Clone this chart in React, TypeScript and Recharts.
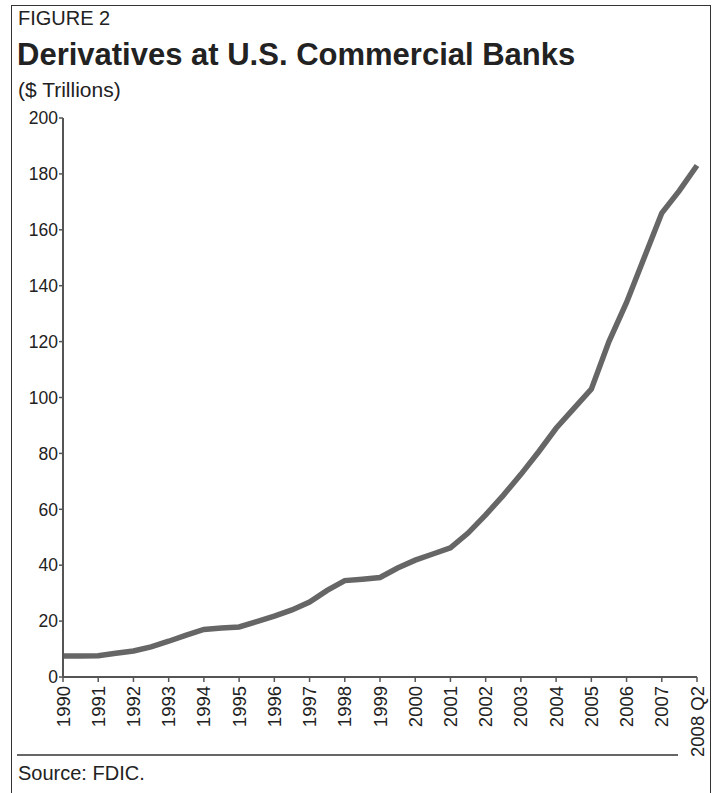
import React from "react";
import { LineChart, Line, XAxis, YAxis } from "recharts";

const xValues = [
  1990, 1990.5, 1991, 1991.5, 1992, 1992.5, 1993, 1993.5, 1994, 1994.5,
  1995, 1995.5, 1996, 1996.5, 1997, 1997.5, 1998, 1998.5, 1999, 1999.5,
  2000, 2000.5, 2001, 2001.5, 2002, 2002.5, 2003, 2003.5, 2004, 2004.5,
  2005, 2005.5, 2006, 2006.5, 2007, 2007.5, 2008,
];
const derivatives = [
  7.5, 7.5, 7.6, 8.5, 9.3, 10.8, 12.8, 15, 17, 17.5,
  17.9, 19.8, 21.8, 24, 26.8, 31, 34.5, 35, 35.6, 39,
  41.8, 44, 46.2, 51.5, 58, 65, 72.5, 80.5, 89, 96,
  103, 120, 134, 150, 166, 174, 183,
];
const xTicks = [
  1990, 1991, 1992, 1993, 1994, 1995, 1996, 1997, 1998, 1999,
  2000, 2001, 2002, 2003, 2004, 2005, 2006, 2007, 2008,
];
const xTickLabels = [
  "1990", "1991", "1992", "1993", "1994", "1995", "1996", "1997", "1998", "1999",
  "2000", "2001", "2002", "2003", "2004", "2005", "2006", "2007", "2008 Q2",
];
const yTicks = [0, 20, 40, 60, 80, 100, 120, 140, 160, 180, 200];

const data = xValues.map((x, i) => ({ x, value: derivatives[i] }));

const FONT = "'Liberation Sans', Arial, Helvetica, sans-serif";
const TEXT = "#222";
const AXIS = "#555";

const XTick = (props: any) => {
  const { x, y, payload } = props;
  const idx = xTicks.indexOf(payload.value);
  const label = idx >= 0 ? xTickLabels[idx] : String(payload.value);
  return (
    <text
      x={0}
      y={0}
      transform={`translate(${x + 6.5},${y + 2}) rotate(-90)`}
      textAnchor="end"
      fontSize={18.5}
      fontFamily={FONT}
      fill={TEXT}
    >
      {label}
    </text>
  );
};

export default function App() {
  return (
    <div
      style={{
        position: "absolute",
        left: 0,
        top: 0,
        width: 715,
        height: 793,
        background: "#fff",
        overflow: "hidden",
        fontFamily: FONT,
        color: TEXT,
      }}
    >
      <div
        style={{
          position: "absolute",
          left: 11,
          top: 5,
          width: 700,
          height: 820,
          border: "1.5px solid #333",
          boxSizing: "border-box",
        }}
      />
      <div style={{ position: "absolute", left: 18, top: 7, fontSize: 20, lineHeight: "22px" }}>
        FIGURE 2
      </div>
      <div
        style={{
          position: "absolute",
          left: 17,
          top: 36,
          fontSize: 31,
          fontWeight: "bold",
          lineHeight: "38px",
          whiteSpace: "nowrap",
        }}
      >
        Derivatives at U.S. Commercial Banks
      </div>
      <div style={{ position: "absolute", left: 18, top: 78, fontSize: 21, lineHeight: "24px" }}>
        ($ Trillions)
      </div>
      <div style={{ position: "absolute", left: 0, top: 0 }}>
        <LineChart
          width={715}
          height={793}
          data={data}
          margin={{ top: 118, right: 18, bottom: 0, left: 0 }}
        >
          <XAxis
            dataKey="x"
            type="number"
            domain={[1990, 2008]}
            ticks={xTicks}
            interval={0}
            height={116}
            tickSize={5}
            tick={<XTick />}
            axisLine={{ stroke: AXIS, strokeWidth: 2 }}
            tickLine={{ stroke: AXIS, strokeWidth: 1.5 }}
          />
          <YAxis
            type="number"
            domain={[0, 200]}
            ticks={yTicks}
            interval={0}
            width={63}
            tickSize={4}
            tickMargin={1}
            tick={{ fontSize: 17.5, fill: TEXT, fontFamily: FONT }}
            axisLine={{ stroke: AXIS, strokeWidth: 2 }}
            tickLine={{ stroke: AXIS, strokeWidth: 1.5 }}
          />
          <Line
            type="linear"
            dataKey="value"
            stroke="#666"
            strokeWidth={5.5}
            dot={false}
            isAnimationActive={false}
          />
        </LineChart>
      </div>
      <div
        style={{
          position: "absolute",
          left: 17,
          top: 754,
          width: 661,
          height: 2,
          background: "#666",
        }}
      />
      <div style={{ position: "absolute", left: 18, top: 761, fontSize: 20, lineHeight: "24px" }}>
        Source: FDIC.
      </div>
    </div>
  );
}
